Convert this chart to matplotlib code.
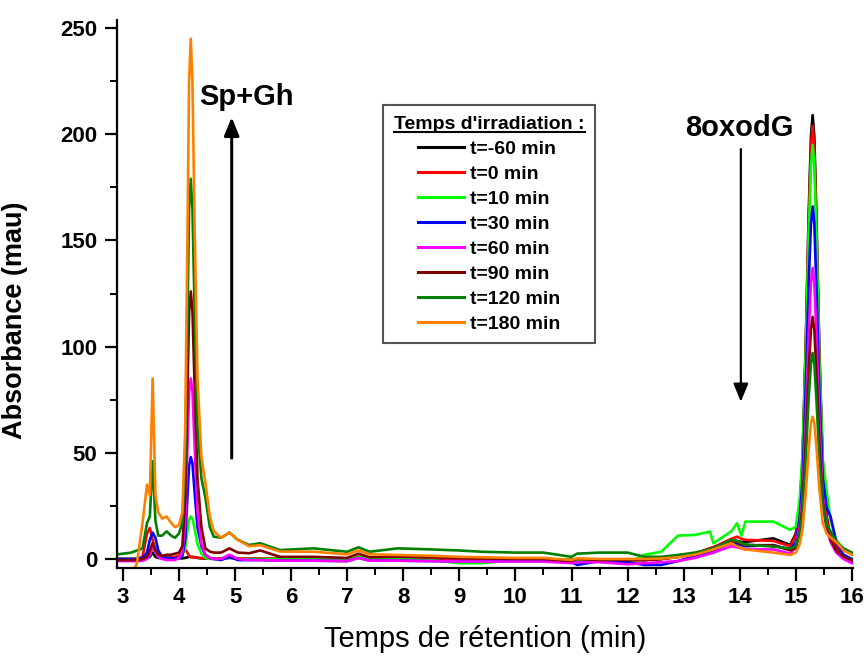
import numpy as np
import matplotlib
matplotlib.use('Agg')
import matplotlib.pyplot as plt
from matplotlib.ticker import MultipleLocator
from matplotlib.lines import Line2D

plt.rcParams['font.family'] = ['Liberation Sans', 'DejaVu Sans']

# retention time grid (min)
t = [2.85, 3.0, 3.15, 3.25, 3.35, 3.43, 3.48, 3.53, 3.58, 3.63, 3.7, 3.78, 3.86, 3.93,
     4.0, 4.06, 4.11, 4.15, 4.18, 4.21, 4.24, 4.28, 4.33, 4.4, 4.47, 4.55, 4.62, 4.75,
     4.9, 5.05, 5.25, 5.45, 5.8, 6.4, 7.0, 7.2, 7.4, 7.9, 8.5, 9.0, 9.4, 10.0,
     10.5, 11.0, 11.1, 11.5, 12.0, 12.3, 12.6, 12.9, 13.2, 13.47, 13.53, 13.85, 13.95, 14.03,
     14.1, 14.6, 14.9, 15.0, 15.07, 15.12, 15.18, 15.23, 15.27, 15.3, 15.33, 15.37, 15.42, 15.48,
     15.55, 15.62, 15.72, 15.85, 16.0]

# absorbance (mau) for each irradiation time
a_m60 = [0, 0, 0, 0, 0, 0.5, 1, 3, 1, 0.5, 0.3, 0.3, 0.3, 0.3,
         0.3, 0.3, 0.5, 0.8, 1, 1, 1, 0.8, 0.5, 0.3, 0.2, 0.2, 0.2, 0.2,
         0.5, 0.3, 0.3, 0.3, 0.2, 0.2, 0.2, 1.0, 0.3, 0.3, 0.2, 0, 0, 0,
         0, -0.5, -0.3, -0.5, -0.5, -0.5, 0, 1, 2.5, 5, 5.5, 9, 8.5, 8,
         8, 9.7, 6.6, 12, 25, 47, 105, 163, 199, 209, 199, 159, 98, 46,
         20, 10, 5.8, 0.5, -1]
a_0 = [0, 0, 0, 0, 1, 12, 14.6, 9, 4, 2, 1, 0.8, 0.8, 1,
       1.5, 3, 4.5, 3, 1.5, 0.8, 0.8, 0.8, 0.6, 0.4, 0.4, 0.3, 0.3, 0.3,
       0.8, 0.3, 0.3, 0.3, 0.2, 0.2, 0.2, 1.0, 0.3, 0.3, 0.2, 0, 0, 0,
       0, -0.5, -0.3, -0.5, -0.5, -0.5, 0, 1, 2.5, 5, 5.5, 9.5, 10.5, 9.5,
       9, 8.5, 6, 11, 24, 45, 102, 159, 194, 204, 194, 155, 96, 44,
       19, 10, 5, 1.5, 0]
a_10 = [0, 0, 0, 0, 0, 0.5, 2, 6, 3, 1, 0.5, 0.5, 0.3, 0.3,
        0.3, 1.5, 5, 13, 18.5, 20, 19, 14, 7, 2.5, 0.5, 0, 0, 0,
        1.5, 0, 0, 0, 0, 0, 0, 1, 0, 0, -0.5, -2, -2, -0.5,
        0, -0.5, -0.3, -0.5, -2, 2, 3.4, 11, 11.3, 12.9, 7.4, 13, 16.8, 11,
        17.6, 17.6, 13.7, 15.2, 28, 50, 100, 153, 185, 195, 186, 150, 93, 47,
        32, 18, 9, 4.5, 2]
a_30 = [0, 0, 0, 0, 0.5, 3, 9, 12.4, 10, 4, 1, 0.5, 0.3, 0.3,
        0.3, 1.5, 9, 29, 44, 48, 45, 31, 15, 6, 2, 0.5, 0, -0.5,
        1, -0.5, -0.5, -0.5, -0.8, -0.8, -1, 0.5, -0.8, -0.8, -1, -1, -1, -1,
        -1, -1.5, -2.8, -1, -1.5, -2.8, -2.8, -1, 1.5, 3.5, 4, 7.5, 7, 6.5,
        6, 6.5, 4.5, 8, 19, 37, 83, 130, 158, 166, 158, 126, 78, 38,
        24, 20, 8, 2, 0]
a_60 = [-1, -1, -1, -1, -0.8, 0, 2, 6, 3, 1, 0, -0.5, -0.5, -0.5,
        0.5, 3, 16, 52, 78, 85, 79, 52, 22, 7, 2, 0.5, 0, 0,
        2, 0, -0.5, -0.5, -0.8, -0.8, -1, 0.5, -0.8, -0.8, -1, -1.2, -1.2, -1.2,
        -1.2, -2, -1.5, -1.5, -2.5, -2, -1.5, -1, 0.5, 2.5, 3, 6, 5.5, 5,
        4.5, 4.5, 2.5, 6, 16, 30, 68, 107, 130, 137, 130, 104, 65, 30,
        15, 8, 3, 0, -2]
a_90 = [-0.5, -0.5, -0.5, -0.5, 0, 1, 4, 7.5, 4, 2, 1.5, 2, 2, 2.5,
        3, 6, 28, 78, 116, 126, 117, 80, 38, 15, 5, 3.5, 3, 3,
        5, 3, 2.7, 4, 1, 1, 0.5, 2.5, 0.8, 1, 0.8, 0.5, 0.3, 0,
        0, -1, 0, -0.5, -0.5, -0.5, 0, 1, 2.5, 4.5, 5, 8.5, 8, 7,
        6.5, 6.5, 4, 5, 13, 25, 57, 89, 108, 114, 108, 87, 54, 27,
        14, 9, 4, 1, -0.5]
a_120 = [2, 2.5, 3, 4, 5, 17, 20, 46, 18, 11, 11, 13, 11, 10,
         12, 17, 45, 110, 165, 179, 165, 115, 62, 38, 29, 15, 10.5, 10,
         12.4, 9, 6.6, 7.4, 4.2, 5, 3.4, 5.5, 3.4, 5, 4.5, 4, 3.4, 3,
         3, 1, 2.5, 3, 3, 1, 1, 1.9, 3, 4.5, 5, 9, 8.5, 7.5,
         6.8, 5.8, 5, 6, 12, 22, 49, 76, 92, 97, 92, 74, 47, 25,
         16, 13, 8, 5, 3]
a_180 = [np.nan, np.nan, -8, -2, 17, 35, 30, 85, 30, 22, 19, 20, 17, 15,
         16, 22, 60, 150, 225, 245, 225, 155, 85, 48, 36, 20, 13, 10,
         12.4, 9, 6, 6.5, 3.5, 3.4, 2.2, 4, 2.2, 1.9, 1.5, 1, 0.8, 0.5,
         0.5, -0.5, 0.3, 0, 0, 0, 0.2, 0.8, 2, 4, 4.5, 7.4, 6, 5,
         4.5, 3, 1.9, 3, 7, 14, 32, 52, 64, 67, 64, 52, 33, 17,
         12, 10, 8, 4, 2]

series = [a_m60, a_0, a_10, a_30, a_60, a_90, a_120, a_180]
labels = ['t=-60 min', 't=0 min', 't=10 min', 't=30 min',
          't=60 min', 't=90 min', 't=120 min', 't=180 min']
colors = ['#000000', '#ff0000', '#00ff00', '#0000ff',
          '#ff00ff', '#800000', '#008000', '#ff8000']

fig = plt.figure(figsize=(8.66, 6.57), dpi=100)
ax = fig.add_axes([0.135, 0.1355, 0.850, 0.8341])

for y, lab, c in zip(series, labels, colors):
    ax.plot(t, y, color=c, lw=1.9, label=lab, solid_joinstyle='round')

ax.set_xlim(2.893, 16.02)
ax.set_ylim(-4.24, 253.8)

ax.spines['top'].set_visible(False)
ax.spines['right'].set_visible(False)
for s in ['left', 'bottom']:
    ax.spines[s].set_linewidth(1.6)

ax.xaxis.set_major_locator(MultipleLocator(1))
ax.xaxis.set_minor_locator(MultipleLocator(0.5))
ax.yaxis.set_major_locator(MultipleLocator(50))
ax.yaxis.set_minor_locator(MultipleLocator(25))
ax.tick_params(which='major', length=9, width=1.6, direction='out')
ax.tick_params(which='minor', length=5, width=1.4, direction='out')
ax.tick_params(axis='x', pad=5)
ax.tick_params(axis='y', pad=5)
for lbl in ax.get_xticklabels() + ax.get_yticklabels():
    lbl.set_fontweight('bold')
    lbl.set_fontsize(16)

fig.text(0.56, 1 - 625 / 657, 'Temps de rétention (min)', fontsize=21, ha='center', va='top')
ax.set_ylabel('Absorbance (mau)', fontsize=19.5, fontweight='bold')
ax.yaxis.set_label_coords(-0.121, 0.4526)

# annotations
ax.text(5.21, 217.5, 'Sp+Gh', fontsize=21, fontweight='bold', ha='center', va='center')
ax.annotate('', xy=(4.94, 208), xytext=(4.94, 47.5),
            arrowprops=dict(arrowstyle='-|>,head_length=1.1,head_width=0.45',
                            color='black', lw=2.2, shrinkA=0, shrinkB=0))
ax.text(14.0, 203, '8oxodG', fontsize=21, fontweight='bold', ha='center', va='center')
ax.annotate('', xy=(14.02, 74), xytext=(14.02, 193),
            arrowprops=dict(arrowstyle='-|>,head_length=1.1,head_width=0.45',
                            color='black', lw=1.6, shrinkA=0, shrinkB=0))

leg = ax.legend(loc='upper left', bbox_to_anchor=(0.362, 0.845), borderaxespad=0,
                title="Temps d'irradiation :", fancybox=False, framealpha=1,
                edgecolor='#555555', handlelength=2.37, handletextpad=0.29,
                labelspacing=0.38, borderpad=0.55,
                prop={'weight': 'bold', 'size': 14},
                title_fontproperties={'weight': 'bold', 'size': 14})
leg.get_frame().set_linewidth(1.5)
for h in leg.get_lines():
    h.set_linewidth(2.2)

# underline the legend title
fig.canvas.draw()
bb = leg.get_title().get_window_extent().transformed(fig.transFigure.inverted())
fig.add_artist(Line2D([bb.x0, bb.x1], [bb.y0 + 0.001, bb.y0 + 0.001],
                      transform=fig.transFigure, color='black', lw=1.5))

fig.savefig('out.png', dpi=100)
